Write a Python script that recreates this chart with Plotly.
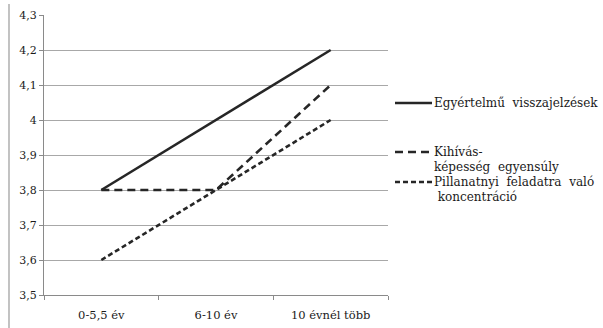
import plotly.graph_objects as go

# Categories (years of experience) and series values
categories = ["0-5,5 év", "6-10 év", "10 évnél több"]
series_names = [
    "Egyértelmű  visszajelzések",
    "Kihívás-<br>képesség  egyensúly",
    "Pillanatnyi  feladatra  való<br> koncentráció",
]
egyertelmu = [3.8, 4.0, 4.2]
kihivas = [3.8, 3.8, 4.1]
pillanatnyi = [3.6, 3.8, 4.0]
y_tickvals = [3.5, 3.6, 3.7, 3.8, 3.9, 4.0, 4.1, 4.2, 4.3]
y_ticktext = ["3,5", "3,6", "3,7", "3,8", "3,9", "4", "4,1", "4,2", "4,3"]

values = [egyertelmu, kihivas, pillanatnyi]
dashes = ["solid", "8px,5px", "5px,3px"]
line_color = "#262626"
font_family = "DejaVu Serif"

fig = go.Figure()
for name, vals, dash in zip(series_names, values, dashes):
    fig.add_trace(go.Scatter(
        x=categories, y=vals, mode="lines", name=name,
        line=dict(color=line_color, width=2.6, dash=dash),
        showlegend=False,
    ))


# positions in paper coordinates (plot area spans 44..388 px, 15..295 px)
def px_x(px):
    return (px - 44) / 344


def px_y(py):
    return (295 - py) / 280


# Hand-placed legend: line sample + one text per row of each entry
legend_line_y = [103, 152, 182]
row_gap = 15
for name, dash, line_py in zip(series_names, dashes, legend_line_y):
    fig.add_shape(
        type="line", xref="paper", yref="paper",
        x0=px_x(395), x1=px_x(432), y0=px_y(line_py), y1=px_y(line_py),
        line=dict(color=line_color, width=2.6, dash=dash),
    )
    for i, row in enumerate(name.split("<br>")):
        fig.add_annotation(
            xref="paper", yref="paper", x=px_x(433), y=px_y(line_py + i * row_gap),
            text=row, showarrow=False, xanchor="left", yanchor="middle",
            align="left", font=dict(family=font_family, size=12, color="#1a1a1a"),
            borderpad=0,
        )

# Left frame border
fig.add_shape(
    type="line", xref="paper", yref="paper",
    x0=px_x(9), x1=px_x(9), y0=px_y(328), y1=px_y(4),
    line=dict(color="#9a9a9a", width=1.2),
)

fig.update_layout(
    width=603, height=328,
    margin=dict(l=44, r=215, t=15, b=33),
    paper_bgcolor="white", plot_bgcolor="white",
    font=dict(family=font_family, size=11, color="#1a1a1a"),
)
fig.update_xaxes(
    type="category", range=[-0.5, 2.5], showgrid=False, showline=True,
    linecolor="#8a8a8a", linewidth=1, ticks="outside", tickson="boundaries",
    ticklen=4, tickcolor="#8a8a8a", ticklabelstandoff=9, automargin=False,
    tickfont=dict(family=font_family, size=11.5),
)
fig.update_yaxes(
    range=[3.5, 4.3], tickvals=y_tickvals, ticktext=y_ticktext,
    showgrid=True, gridcolor="#a8a8a8", gridwidth=1, automargin=False,
    showline=True, linecolor="#8a8a8a", linewidth=1,
    ticks="outside", ticklen=4, tickcolor="#8a8a8a", zeroline=False,
    tickfont=dict(family=font_family, size=11),
)

fig.write_html("out.html")
